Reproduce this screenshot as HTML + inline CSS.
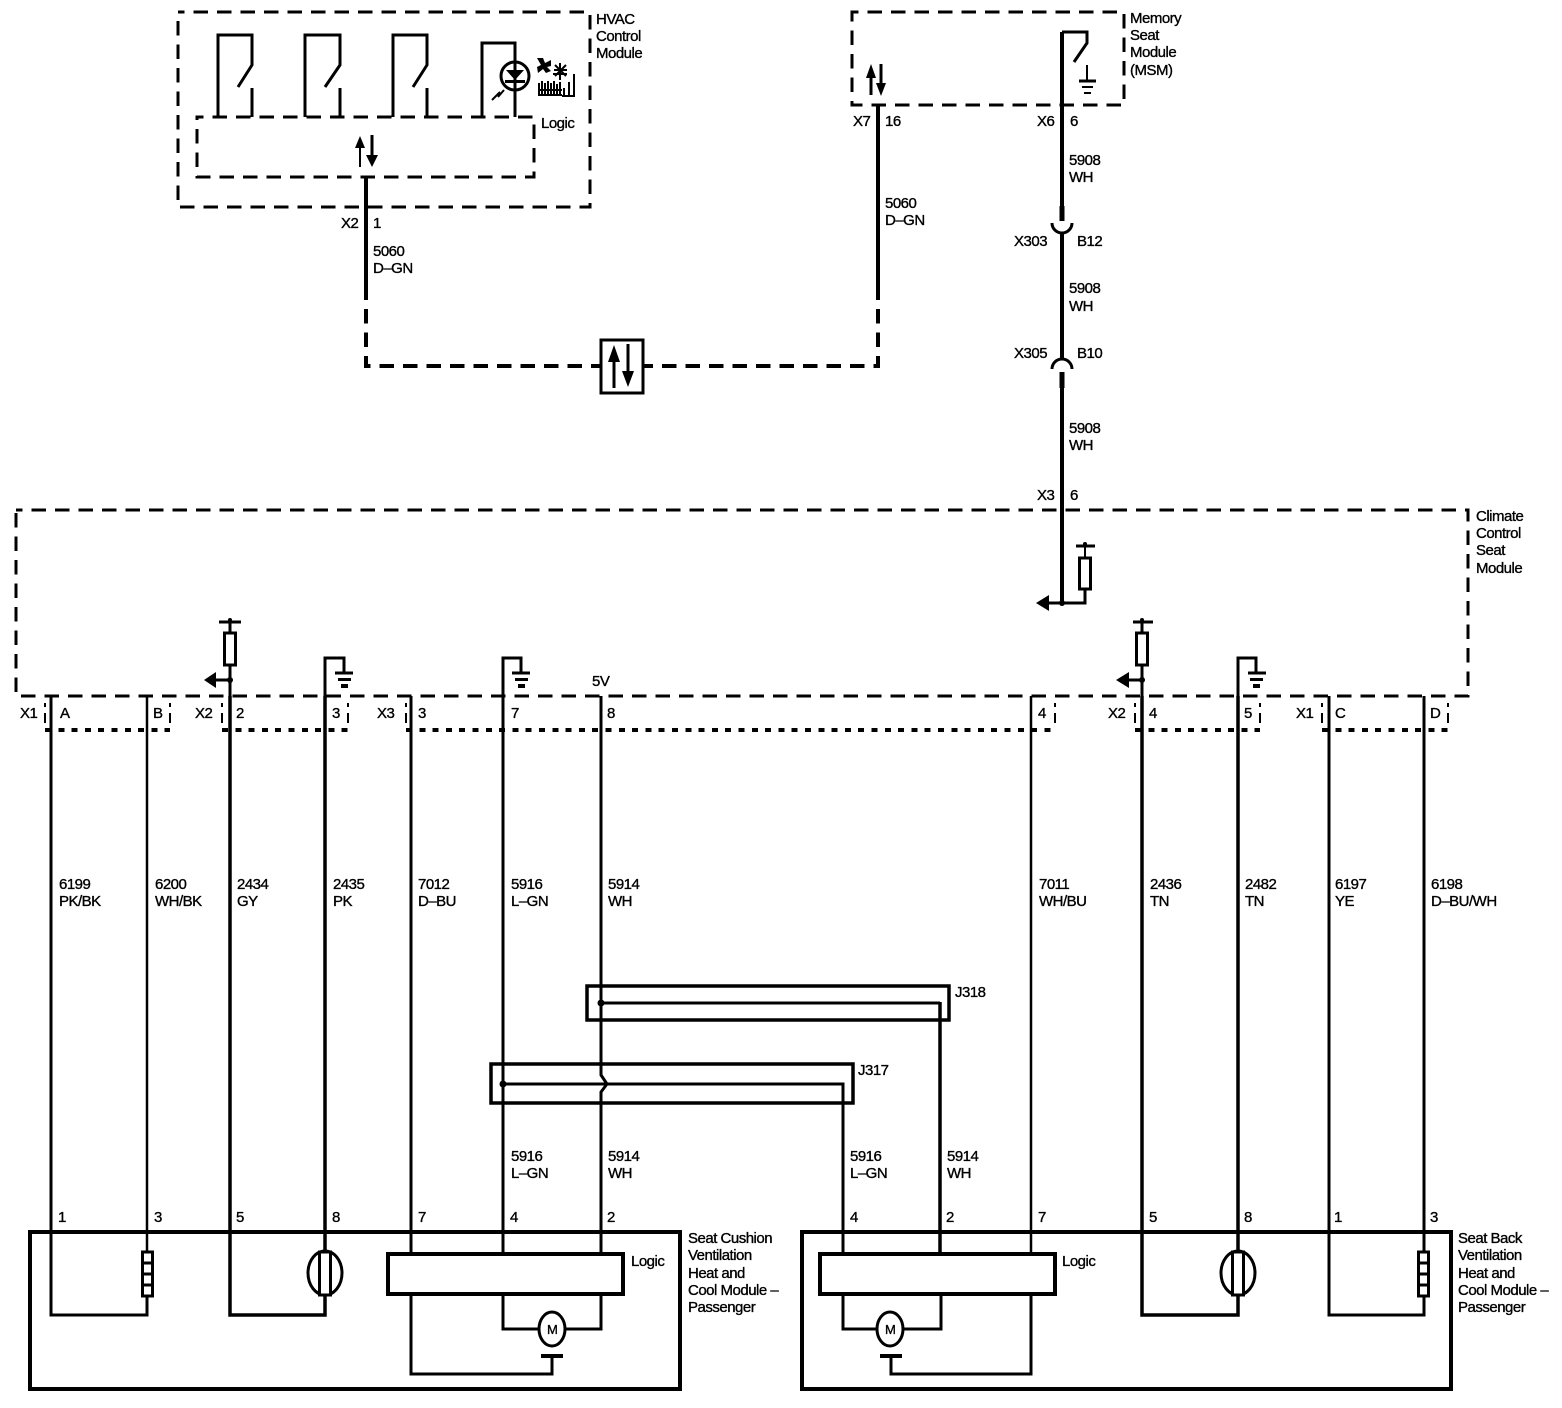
<!DOCTYPE html>
<html><head><meta charset="utf-8"><style>
html,body{margin:0;padding:0;background:#fff}
svg{display:block}
text{font-family:"Liberation Sans",sans-serif;font-size:15px;letter-spacing:-.5px;fill:#000;stroke:#000;stroke-width:.35px}
.w{fill:none;stroke:#000;stroke-width:3}
.h{fill:none;stroke:#000;stroke-width:4}
.t{fill:none;stroke:#000;stroke-width:2}
.k{fill:none;stroke:#000;stroke-width:4}
.d{fill:none;stroke:#000;stroke-width:3;stroke-dasharray:14.5 9;stroke-dashoffset:8;shape-rendering:crispEdges}
.o{fill:none;stroke:#000;stroke-width:4;stroke-dasharray:6 7.3;shape-rendering:crispEdges}
.f{fill:#000;stroke:none}
.b{fill:#fff;stroke:#000;stroke-width:3}
</style></head><body>
<svg width="1562" height="1408" viewBox="0 0 1562 1408" xmlns="http://www.w3.org/2000/svg">
<rect width="1562" height="1408" fill="#fff"/>

<!-- HVAC -->
<rect x="178" y="12" width="412" height="195" class="d"/>
<rect x="197" y="117" width="337" height="60" class="d"/>
<path class="w" d="M218 117V35H252V65L238 87M252 88V117"/>
<path class="w" d="M305 117V35H340V65L325 87"/><path class="w" d="M340 88V117"/>
<path class="w" d="M393 117V35H427V65L413 87M427 88V117"/>
<path class="w" d="M482 117V43H515V117"/>
<circle cx="515" cy="76" r="14" class="w"/>
<path class="f" d="M506 70H524L515 80Z"/><rect x="505" y="80" width="20" height="3" class="f"/>
<path class="t" d="M492 100L500 92M498 97L504 90"/>
<path class="f" d="M537 58H543L545 63L551 60V66L547 67L551 71L546 73L543 69L538 73L537 67L541 65Z"/>
<path class="t" d="M554 70H567M560 63V80M555 65L566 76M566 65L555 76M553 74H567"/>
<path class="t" d="M539 96V83M542 96V81M545 96V83M548 96V81M551 96V83M554 96V81M557 96V84M560 96V82M538 90H562M538 95H562"/>
<path class="t" d="M564 96V88M569 96V82M574 96V74M562 96H575"/>
<path class="t" d="M360 167V140"/><path class="f" d="M355 148L360 136L365 148Z"/>
<path class="w" d="M372 135V160"/><path class="f" d="M366 155H378L372 167Z"/>
<path class="h" d="M366 177V298"/>
<path class="d" style="stroke-width:4;stroke-dashoffset:-11" d="M366 298V366H601"/>
<path class="d" style="stroke-width:4;stroke-dashoffset:-11" d="M878 298V366H643"/>
<rect x="601" y="340" width="42" height="53" class="b"/>
<path class="w" d="M614 388V360"/><path class="f" d="M608 362L614 345L620 362Z"/>
<path class="w" d="M628 344V372"/><path class="f" d="M622 371H634L628 387Z"/>

<!-- Memory -->
<rect x="852" y="12" width="272" height="93" class="d"/>
<path class="h" d="M878 105V298"/>
<path class="w" d="M871 95V75"/><path class="f" d="M866 78L871 64L876 78Z"/>
<path class="w" d="M881 64V85"/><path class="f" d="M876 83H886L881 96Z"/>
<path class="h" d="M1062 32V207"/><path class="h" style="stroke-width:5" d="M1062 206V221"/>
<path class="w" d="M1062 32H1087V43L1074 62"/>
<path class="t" d="M1087 65V81"/><path class="w" d="M1079 81H1096"/><path class="t" d="M1082 87H1093"/><rect x="1084" y="92" width="7" height="2" class="f"/>
<path class="w" d="M1052 223A10 10 0 0 0 1072 223"/>
<path class="h" d="M1062 233V360"/>
<path class="w" d="M1052 369A10 10 0 0 1 1072 369"/>
<path class="h" style="stroke-width:5" d="M1062 372V388"/><path class="h" d="M1062 388V603"/>

<!-- Climate -->
<rect x="16" y="510" width="1452" height="186" class="d"/>
<path class="t" d="M1085 545V557"/><path class="w" d="M1076 546H1095"/><rect x="1079.500" y="558" width="11" height="31" fill="#fff" stroke="#000" stroke-width="3"/>
<path class="w" d="M1085 590V603H1042"/><circle cx="1062" cy="603" r="3" class="f"/><circle cx="1085" cy="544" r="2" class="f"/>
<path class="f" d="M1036 603L1049 595V611Z"/>
<!-- pull ups -->
<path class="w" d="M230 622V696"/><path class="w" d="M219 622H241"/><circle cx="230" cy="620" r="2" class="f"/>
<rect x="224.500" y="633" width="11" height="32" fill="#fff" stroke="#000" stroke-width="3"/>
<path class="w" d="M230 680H211"/><circle cx="230" cy="680" r="3" class="f"/><path class="f" d="M204 680L216 672V688Z"/>
<path class="w" d="M1142 622V696"/><path class="w" d="M1133 622H1153"/><circle cx="1142" cy="620" r="2" class="f"/>
<rect x="1136.500" y="633" width="11" height="32" fill="#fff" stroke="#000" stroke-width="3"/>
<path class="w" d="M1142 680H1122"/><circle cx="1142" cy="680" r="3" class="f"/><path class="f" d="M1116 680L1129 672V688Z"/>
<!-- grounds -->
<path class="w" d="M325 696V658H344V673"/><path class="w" d="M335 673H353"/><rect x="338" y="678" width="13" height="3" class="f"/><rect x="341" y="684" width="7" height="4" class="f"/>
<path class="w" d="M503 696V658H521V673"/><path class="w" d="M512 673H530"/><rect x="515" y="678" width="13" height="3" class="f"/><rect x="518" y="684" width="7" height="4" class="f"/>
<path class="w" d="M1238 696V658H1256V673"/><path class="w" d="M1248 673H1266"/><rect x="1250" y="678" width="13" height="3" class="f"/><rect x="1253" y="684" width="7" height="4" class="f"/>

<!-- connector dashed boxes -->
<path class="o" d="M45 730H170"/><path class="o" d="M222 730H348"/><path class="o" d="M406 730H1055"/><path class="o" d="M1135 730H1260"/><path class="o" d="M1322 730H1448"/>
<path class="t" d="M45 703V707M45 713V723M170 703V707M170 713V723M222 703V707M222 713V723M348 703V707M348 713V723M406 703V707M406 713V723M1055 703V707M1055 713V723M1135 703V707M1135 713V723M1260 703V707M1260 713V723M1322 703V707M1322 713V723M1448 703V707M1448 713V723"/>

<!-- main wires -->
<path class="w" d="M51 696V1315H147V1296"/><path class="w" style="stroke-width:2.500" d="M147 1251V696"/>
<path class="h" style="stroke-width:3.500" d="M230 696V1315H325V696"/>
<path class="w" d="M411 696V1254M411 1294V1374H552V1356"/>
<path class="w" d="M503 696V1254M503 1294V1329H539M565 1329H601V1294"/>
<path class="w" d="M601 696V1075L607 1084L601 1092V1254"/>
<path class="w" style="stroke-width:2.500" d="M1031 696V1254"/><path class="w" d="M1031 1294V1374H891V1356"/>
<path class="h" style="stroke-width:3.500" d="M1142 696V1315H1238V696"/>
<path class="w" d="M1329 696V1315H1424V696"/>
<path class="k" d="M541 1356H563M880 1356H902"/>

<!-- J318/J317 -->
<rect x="587" y="986" width="362" height="34" class="k" style="stroke-width:3.500"/>
<rect x="491" y="1064" width="362" height="39" class="k" style="stroke-width:3.500"/>
<path class="w" d="M601 1003H940"/><path class="h" style="stroke-width:3.500" d="M940 1002V1254"/><circle cx="601" cy="1003" r="3.500" class="f"/>
<path class="w" d="M503 1084H843V1254"/><circle cx="503" cy="1084" r="3.500" class="f"/>

<!-- bottom modules -->
<rect x="30" y="1232" width="650" height="157" class="k"/>
<rect x="802" y="1232" width="649" height="157" class="k"/>
<rect x="388" y="1254" width="235" height="40" class="k" style="fill:#fff"/>
<rect x="820" y="1254" width="235" height="40" class="k" style="fill:#fff"/>
<path class="w" d="M843 1294V1329H877M903 1329H941V1294"/>

<!-- heater / blower elements -->
<rect x="142.500" y="1252" width="10" height="44" fill="#fff" stroke="#000" stroke-width="3"/>
<path class="w" d="M142 1263H153M142 1274H153M142 1285H153"/>
<rect x="1418.500" y="1252" width="10" height="44" fill="#fff" stroke="#000" stroke-width="3"/>
<path class="w" d="M1418 1263H1429M1418 1274H1429M1418 1285H1429"/>
<ellipse cx="325" cy="1273" rx="17" ry="22" class="w"/>
<rect x="319.500" y="1252" width="11" height="43" fill="#fff" stroke="#000" stroke-width="3"/>
<ellipse cx="1238" cy="1273" rx="17" ry="22" class="w"/>
<rect x="1232.500" y="1252" width="11" height="43" fill="#fff" stroke="#000" stroke-width="3"/>
<ellipse cx="552" cy="1329" rx="13" ry="17" fill="#fff" stroke="#000" stroke-width="3"/>
<ellipse cx="890" cy="1329" rx="13" ry="17" fill="#fff" stroke="#000" stroke-width="3"/>

<!-- text -->
<text x="596" y="24">HVAC</text><text x="596" y="41">Control</text><text x="596" y="58">Module</text>
<text x="541" y="128">Logic</text>
<text x="341" y="228">X2</text><text x="373" y="228">1</text>
<text x="373" y="256">5060</text><text x="373" y="273">D–GN</text>
<text x="1130" y="23">Memory</text><text x="1130" y="40">Seat</text><text x="1130" y="57">Module</text><text x="1130" y="75">(MSM)</text>
<text x="853" y="126">X7</text><text x="885" y="126">16</text>
<text x="1037" y="126">X6</text><text x="1070" y="126">6</text>
<text x="1069" y="165">5908</text><text x="1069" y="182">WH</text>
<text x="885" y="208">5060</text><text x="885" y="225">D–GN</text>
<text x="1014" y="246">X303</text><text x="1077" y="246">B12</text>
<text x="1069" y="293">5908</text><text x="1069" y="311">WH</text>
<text x="1014" y="358">X305</text><text x="1077" y="358">B10</text>
<text x="1069" y="433">5908</text><text x="1069" y="450">WH</text>
<text x="1037" y="500">X3</text><text x="1070" y="500">6</text>
<text x="1476" y="521">Climate</text><text x="1476" y="538">Control</text><text x="1476" y="555">Seat</text><text x="1476" y="573">Module</text>
<text x="592" y="686">5V</text>

<text x="20" y="718">X1</text><text x="60" y="718">A</text><text x="153" y="718">B</text>
<text x="195" y="718">X2</text><text x="236" y="718">2</text><text x="332" y="718">3</text>
<text x="377" y="718">X3</text><text x="418" y="718">3</text><text x="511" y="718">7</text><text x="607" y="718">8</text>
<text x="1038" y="718">4</text><text x="1108" y="718">X2</text><text x="1149" y="718">4</text><text x="1244" y="718">5</text>
<text x="1296" y="718">X1</text><text x="1335" y="718">C</text><text x="1430" y="718">D</text>

<text x="59" y="889">6199</text><text x="59" y="906">PK/BK</text>
<text x="155" y="889">6200</text><text x="155" y="906">WH/BK</text>
<text x="237" y="889">2434</text><text x="237" y="906">GY</text>
<text x="333" y="889">2435</text><text x="333" y="906">PK</text>
<text x="418" y="889">7012</text><text x="418" y="906">D–BU</text>
<text x="511" y="889">5916</text><text x="511" y="906">L–GN</text>
<text x="608" y="889">5914</text><text x="608" y="906">WH</text>
<text x="1039" y="889">7011</text><text x="1039" y="906">WH/BU</text>
<text x="1150" y="889">2436</text><text x="1150" y="906">TN</text>
<text x="1245" y="889">2482</text><text x="1245" y="906">TN</text>
<text x="1335" y="889">6197</text><text x="1335" y="906">YE</text>
<text x="1431" y="889">6198</text><text x="1431" y="906">D–BU/WH</text>

<text x="955" y="997">J318</text><text x="858" y="1075">J317</text>

<text x="511" y="1161">5916</text><text x="511" y="1178">L–GN</text>
<text x="608" y="1161">5914</text><text x="608" y="1178">WH</text>
<text x="850" y="1161">5916</text><text x="850" y="1178">L–GN</text>
<text x="947" y="1161">5914</text><text x="947" y="1178">WH</text>

<text x="58" y="1222">1</text><text x="154" y="1222">3</text><text x="236" y="1222">5</text><text x="332" y="1222">8</text>
<text x="418" y="1222">7</text><text x="510" y="1222">4</text><text x="607" y="1222">2</text>
<text x="850" y="1222">4</text><text x="946" y="1222">2</text><text x="1038" y="1222">7</text>
<text x="1149" y="1222">5</text><text x="1244" y="1222">8</text><text x="1334" y="1222">1</text><text x="1430" y="1222">3</text>

<text x="631" y="1266">Logic</text><text x="1062" y="1266">Logic</text>
<text x="547" y="1334" style="font-size:13px">M</text><text x="885" y="1334" style="font-size:13px">M</text>

<text x="688" y="1243">Seat Cushion</text><text x="688" y="1260">Ventilation</text><text x="688" y="1278">Heat and</text><text x="688" y="1295">Cool Module –</text><text x="688" y="1312">Passenger</text>
<text x="1458" y="1243">Seat Back</text><text x="1458" y="1260">Ventilation</text><text x="1458" y="1278">Heat and</text><text x="1458" y="1295">Cool Module –</text><text x="1458" y="1312">Passenger</text>
</svg>
</body></html>
